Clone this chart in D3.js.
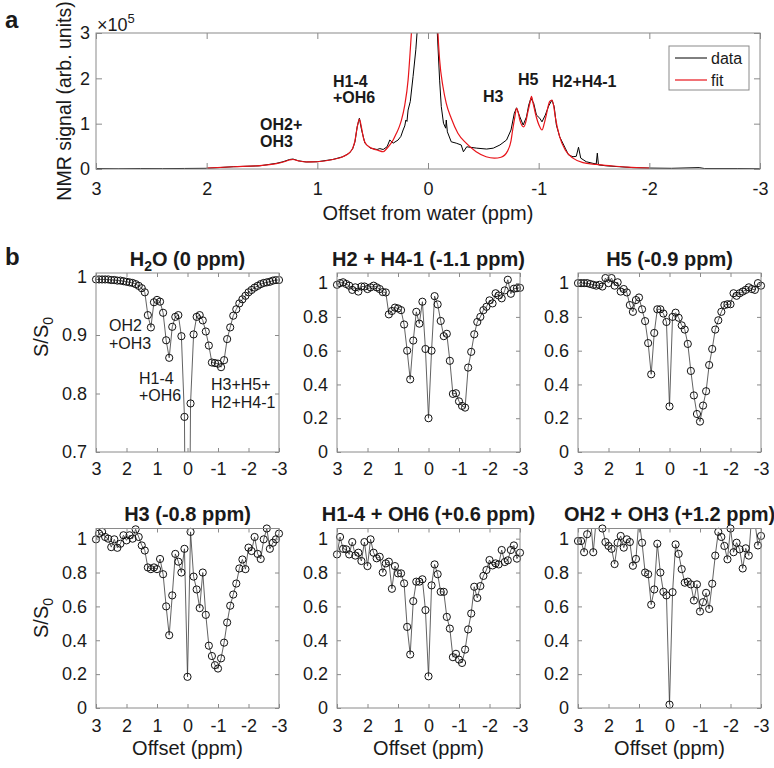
<!DOCTYPE html>
<html><head><meta charset="utf-8">
<script src="https://cdn.jsdelivr.net/npm/d3@7"></script>
<style>
body{margin:0;background:#fff}
svg{display:block}
text{font-family:Helvetica,Arial,'Liberation Sans',sans-serif;fill:#1a1a1a}
</style>
</head><body>
<svg id="c" width="774" height="768"></svg>
<script>
// ---------------- DATA ----------------
// (a) NMR spectrum, offset in ppm, signal in units of 1e5
const specDataPpm = [3.0,2.8,2.6,2.4,2.2,2.0,1.76,1.52,1.37,1.31,1.25,1.22,1.17,1.10,1.0,0.86,0.77,0.71,0.68,0.66,0.64,0.62,0.60,0.57,0.52,0.46,0.435,0.405,0.37,0.345,0.315,0.27,0.245,0.225,0.21,0.2,0.19,0.18,0.16,0.135,0.11,0.09,0.05,0.0,-0.05,-0.08,-0.105,-0.12,-0.14,-0.16,-0.165,-0.175,-0.21,-0.255,-0.30,-0.32,-0.35,-0.44,-0.53,-0.59,-0.65,-0.71,-0.75,-0.78,-0.80,-0.83,-0.86,-0.89,-0.91,-0.93,-0.955,-0.98,-1.01,-1.03,-1.06,-1.09,-1.12,-1.14,-1.16,-1.19,-1.24,-1.27,-1.31,-1.34,-1.36,-1.38,-1.43,-1.49,-1.52,-1.53,-1.54,-1.61,-1.73,-1.85,-2.0,-2.2,-2.45,-2.5,-2.8,-3.0];
const specDataVal = [0.01,0.005,0.01,0.008,0.012,0.015,0.05,0.07,0.125,0.16,0.21,0.22,0.18,0.155,0.16,0.21,0.27,0.35,0.45,0.60,0.93,1.12,0.86,0.57,0.46,0.43,0.45,0.43,0.49,0.64,0.57,0.64,0.72,0.86,0.95,1.08,1.05,1.30,1.49,2.04,2.63,3.3,6,9,6,3.2,1.96,1.38,1.01,0.90,1.08,0.82,0.60,0.57,0.53,0.38,0.49,0.46,0.44,0.46,0.53,0.64,0.86,1.23,1.35,1.15,0.97,1.15,1.41,1.56,1.45,1.19,1.12,1.04,1.19,1.39,1.52,1.38,0.97,0.71,0.46,0.31,0.27,0.28,0.48,0.24,0.16,0.125,0.11,0.35,0.09,0.07,0.05,0.03,0.02,0.015,0.03,0.01,0.01,0.005];
const specFitPpm = [2.0,1.76,1.52,1.37,1.30,1.25,1.22,1.17,1.10,1.0,0.86,0.77,0.71,0.68,0.66,0.64,0.62,0.60,0.58,0.55,0.50,0.45,0.405,0.38,0.345,0.315,0.285,0.26,0.24,0.21,0.18,0.16,0.15,0.12,0.06,0.0,-0.05,-0.09,-0.105,-0.135,-0.165,-0.21,-0.27,-0.345,-0.435,-0.525,-0.60,-0.66,-0.72,-0.75,-0.765,-0.785,-0.80,-0.815,-0.83,-0.865,-0.885,-0.90,-0.92,-0.935,-0.95,-0.97,-1.01,-1.03,-1.05,-1.065,-1.10,-1.12,-1.135,-1.15,-1.19,-1.24,-1.31,-1.40,-1.52,-1.67,-1.80,-2.0];
const specFitVal = [0.02,0.05,0.075,0.12,0.16,0.20,0.21,0.18,0.155,0.16,0.21,0.27,0.36,0.46,0.62,0.92,1.10,0.90,0.65,0.52,0.45,0.41,0.38,0.43,0.53,0.64,0.79,0.93,1.08,1.41,1.96,2.63,3.0,4,8,12,7,3.0,2.41,1.82,1.45,1.12,0.79,0.57,0.38,0.27,0.24,0.26,0.40,0.62,0.86,1.15,1.34,1.25,1.08,0.93,1.05,1.23,1.45,1.60,1.45,1.23,0.93,0.86,1.0,1.15,1.49,1.52,1.40,1.15,0.71,0.42,0.24,0.14,0.10,0.066,0.04,0.02];
const specXTicks = [3,2,1,0,-1,-2,-3];
const specYTicks = [0,1,2,3];
const specLabels = [
  ["OH2+", 260, 130], ["OH3", 260, 147], ["H1-4", 333, 87], ["+OH6", 333, 103],
  ["H3", 483, 102], ["H5", 518, 85], ["H2+H4-1", 552, 87]
];
const legendNames = ["data", "fit"];

// (b) Z-spectra: saturation offset (ppm) and S/S0 for each detection peak
const offsets = [3.0,2.9,2.8,2.7,2.6,2.5,2.4,2.3,2.2,2.1,2.0,1.9,1.8,1.7,1.6,1.5,1.4,1.3,1.2,1.1,1.0,0.9,0.8,0.7,0.6,0.5,0.4,0.3,0.2,0.1,0.0,-0.1,-0.2,-0.3,-0.4,-0.5,-0.6,-0.7,-0.8,-0.9,-1.0,-1.1,-1.2,-1.3,-1.4,-1.5,-1.6,-1.7,-1.8,-1.9,-2.0,-2.1,-2.2,-2.3,-2.4,-2.5,-2.6,-2.7,-2.8,-2.9,-3.0];
const zH2O = [0.995,0.995,0.995,0.995,0.995,0.994,0.994,0.993,0.993,0.992,0.991,0.990,0.989,0.987,0.984,0.980,0.973,0.934,0.913,0.956,0.960,0.957,0.938,0.891,0.861,0.914,0.931,0.934,0.898,0.760,0.05,0.783,0.901,0.931,0.934,0.925,0.906,0.882,0.853,0.852,0.851,0.845,0.857,0.893,0.913,0.933,0.944,0.954,0.961,0.967,0.973,0.977,0.981,0.984,0.987,0.989,0.990,0.991,0.993,0.994,0.994];
const zH2H41 = [0.99,1.0,1.005,0.995,0.985,0.96,0.975,0.95,0.98,0.98,0.965,0.975,0.985,0.975,0.965,0.947,0.945,0.815,0.835,0.855,0.85,0.84,0.755,0.60,0.43,0.66,0.83,0.76,0.89,0.61,0.20,0.60,0.923,0.874,0.776,0.686,0.70,0.54,0.344,0.348,0.30,0.273,0.263,0.50,0.593,0.697,0.77,0.80,0.84,0.86,0.898,0.88,0.94,0.927,0.91,0.957,1.02,0.937,0.967,0.97,0.972];
const zH5 = [1.0,1.0,1.0,1.0,0.995,0.99,0.985,0.99,0.98,1.03,1.0,1.03,0.985,1.005,0.95,0.965,0.945,0.87,0.83,0.9,0.915,0.845,0.775,0.645,0.46,0.705,0.845,0.845,0.82,0.77,0.27,0.80,0.825,0.795,0.75,0.725,0.64,0.48,0.335,0.225,0.18,0.275,0.36,0.515,0.61,0.725,0.78,0.83,0.87,0.875,0.875,0.94,0.925,0.94,0.95,0.96,0.975,0.965,0.96,1.0,0.985];
const zH3 = [0.996,1.03,1.04,1.01,1.0,0.95,0.996,0.946,0.97,1.02,0.99,1.02,1.0,1.055,1.01,0.96,0.93,0.83,0.82,0.83,0.82,0.88,0.79,0.60,0.43,0.665,0.91,0.864,0.80,0.94,0.184,1.04,0.776,0.70,0.59,0.80,0.55,0.368,0.307,0.253,0.233,0.293,0.386,0.505,0.604,0.67,0.735,0.824,0.877,0.82,0.947,0.927,1.01,0.91,0.88,0.996,1.06,0.94,0.976,0.996,1.03];
const zH14OH6 = [0.907,1.01,0.94,0.937,0.907,0.98,0.90,0.917,0.868,0.98,0.838,0.996,0.917,0.884,0.893,0.80,0.854,0.864,0.704,0.838,0.795,0.795,0.736,0.479,0.316,0.631,0.746,0.746,0.76,0.578,0.187,0.724,0.848,0.79,0.686,0.686,0.538,0.469,0.30,0.32,0.286,0.266,0.345,0.464,0.558,0.716,0.65,0.72,0.78,0.815,0.874,0.842,0.854,0.848,0.933,0.862,0.872,0.933,0.96,0.882,0.917];
const zOH2OH3 = [0.986,0.986,0.92,1.026,1.15,0.92,1.12,1.10,1.06,0.98,0.957,0.94,0.85,0.976,1.016,0.947,0.996,0.98,0.84,0.88,1.12,0.976,0.80,0.79,0.61,0.70,0.97,0.80,0.686,0.665,0.02,0.684,0.966,0.91,0.82,0.74,0.746,0.73,0.635,0.73,0.57,0.625,0.68,0.585,0.734,0.90,1.04,1.01,0.957,0.878,1.06,0.92,0.976,0.937,0.824,0.943,0.90,1.15,1.10,0.96,1.016];
const zTitles = ["H2O (0 ppm)", "H2 + H4-1 (-1.1 ppm)", "H5 (-0.9 ppm)", "H3 (-0.8 ppm)", "H1-4 + OH6 (+0.6 ppm)", "OH2 + OH3 (+1.2 ppm)"];
const zSeries = [zH2O, zH2H41, zH5, zH3, zH14OH6, zOH2OH3];
const zXTicks = [3,2,1,0,-1,-2,-3];
const zYTicksH2O = [0.7,0.8,0.9,1];
const zYTicks = [0,0.2,0.4,0.6,0.8,1];
const h2oNotes = [["OH2",109,331],["+OH3",109,349],["H1-4",139,384],["+OH6",139,401],["H3+H5+",211,390],["H2+H4-1",211,408]];

// ---------------- DRAWING ----------------
const svg = d3.select("#c");
const AX = "#8a8a8a", TXT = "#262626";
const fmt = d => String(d);

function boxAxes(g, x, y, xt, yt, tick, padX, padY, showX) {
  const [x0, x1] = x.range(), [y0, y1] = y.range();
  const ab = g.append("g").attr("transform", `translate(0,${y0})`)
    .call(d3.axisBottom(x).tickValues(xt).tickFormat(showX ? fmt : () => "").tickSizeInner(-tick).tickSizeOuter(0).tickPadding(padX));
  const at = g.append("g").attr("transform", `translate(0,${y1})`)
    .call(d3.axisTop(x).tickValues(xt).tickFormat(() => "").tickSizeInner(-tick).tickSizeOuter(0));
  const al = g.append("g").attr("transform", `translate(${x0},0)`)
    .call(d3.axisLeft(y).tickValues(yt).tickFormat(fmt).tickSizeInner(-tick).tickSizeOuter(0).tickPadding(padY));
  const ar = g.append("g").attr("transform", `translate(${x1},0)`)
    .call(d3.axisRight(y).tickValues(yt).tickFormat(() => "").tickSizeInner(-tick).tickSizeOuter(0));
  [ab, at, al, ar].forEach(a => {
    a.select(".domain").remove();
    a.selectAll("line").attr("stroke", AX);
    a.selectAll("text").attr("font-size", 18).attr("fill", TXT)
      .style("font-family", "Helvetica,Arial,'Liberation Sans',sans-serif");
  });
  g.append("rect").attr("x", x0).attr("y", y1).attr("width", x1 - x0).attr("height", y0 - y1)
    .attr("fill", "none").attr("stroke", AX).attr("stroke-width", 1);
}

// panel letters
svg.append("text").attr("x", 5).attr("y", 28).attr("font-size", 24).attr("font-weight", "bold").text("a");
svg.append("text").attr("x", 5).attr("y", 265).attr("font-size", 24).attr("font-weight", "bold").text("b");

// ----- (a) spectrum -----
const xs = d3.scaleLinear().domain([3, -3]).range([96, 760]);
const ys = d3.scaleLinear().domain([0, 3]).range([169, 33]);
const ga = svg.append("g");
ga.append("clipPath").attr("id", "clipA").append("rect")
  .attr("x", 96).attr("y", 33).attr("width", 664).attr("height", 136);
const pts = (p, v) => p.map((d, i) => [d, v[i]]);
const lineA = d3.line().x(d => xs(d[0])).y(d => ys(d[1]));
const lineFit = d3.line().x(d => xs(d[0])).y(d => ys(d[1])).curve(d3.curveMonotoneX);
ga.append("path").attr("clip-path", "url(#clipA)").attr("d", lineA(pts(specDataPpm, specDataVal)))
  .attr("fill", "none").attr("stroke", "#000").attr("stroke-width", 1);
ga.append("path").attr("clip-path", "url(#clipA)").attr("d", lineFit(pts(specFitPpm, specFitVal)))
  .attr("fill", "none").attr("stroke", "#e8141a").attr("stroke-width", 1.2);
boxAxes(ga, xs, ys, specXTicks, specYTicks, 6, 13, 6, true);
ga.append("text").attr("x", 97).attr("y", 31).attr("font-size", 18).attr("fill", TXT)
  .text("\u00d710").append("tspan").attr("font-size", 13).attr("dy", -8).text("5");
ga.append("text").attr("transform", "translate(71,101) rotate(-90)").attr("text-anchor", "middle")
  .attr("font-size", 19.5).attr("fill", TXT).text("NMR signal (arb. units)");
ga.append("text").attr("x", 428).attr("y", 220).attr("text-anchor", "middle")
  .attr("font-size", 20).attr("fill", TXT).text("Offset from water (ppm)");
specLabels.forEach(([t, x, y]) => ga.append("text").attr("x", x).attr("y", y)
  .attr("font-size", 16).attr("font-weight", "bold").text(t));
// legend
const lg = ga.append("g");
lg.append("rect").attr("x", 669).attr("y", 46).attr("width", 80).attr("height", 44)
  .attr("fill", "#fff").attr("stroke", AX);
[["#000", 58], ["#e8141a", 80]].forEach(([c, y], i) => {
  lg.append("line").attr("x1", 675).attr("x2", 707).attr("y1", y).attr("y2", y)
    .attr("stroke", c).attr("stroke-width", i ? 1.2 : 1);
  lg.append("text").attr("x", 711).attr("y", y + 6).attr("font-size", 16).attr("fill", TXT).text(legendNames[i]);
});

// ----- (b) Z-spectra -----
const colX = [96, 337, 578], PW = 183;
const rowY = [[273, 452], [528.5, 708]];
zSeries.forEach((vals, k) => {
  const c = k % 3, r = Math.floor(k / 3);
  const left = colX[c], [top, bot] = rowY[r];
  const isH2O = k === 0;
  const x = d3.scaleLinear().domain([3, -3]).range([left, left + PW]);
  const y = d3.scaleLinear().domain(isH2O ? [0.7, 1.006] : [0, 1.06]).range([bot, top]);
  const g = svg.append("g");
  g.append("clipPath").attr("id", "clipZ" + k).append("rect")
    .attr("x", left).attr("y", top).attr("width", PW).attr("height", bot - top);
  const data = offsets.map((o, i) => [o, vals[i]]);
  g.append("path").attr("clip-path", `url(#clipZ${k})`)
    .attr("d", d3.line().x(d => x(d[0])).y(d => y(d[1]))(data))
    .attr("fill", "none").attr("stroke", "#3a3a3a").attr("stroke-width", 0.8);
  const [ylo, yhi] = y.domain();
  g.selectAll("circle").data(data.filter(d => d[1] >= ylo && d[1] <= yhi + 0.002)).join("circle")
    .attr("cx", d => x(d[0])).attr("cy", d => y(d[1])).attr("r", 3.6)
    .attr("fill", "none").attr("stroke", "#111").attr("stroke-width", 1);
  boxAxes(g, x, y, zXTicks, isH2O ? zYTicksH2O : zYTicks, 4, r === 0 ? 10 : 11, 9, true);
  // title
  const tt = g.append("text").attr("x", left + PW / 2).attr("y", r === 0 ? 266 : 521)
    .attr("text-anchor", "middle").attr("font-size", 20).attr("font-weight", "bold");
  if (isH2O) {
    tt.append("tspan").text("H");
    tt.append("tspan").attr("font-size", 14).attr("dy", 5).text("2");
    tt.append("tspan").attr("dy", -5).text("O (0 ppm)");
  } else tt.text(zTitles[k]);
  if (c === 0) {
    const yl = g.append("text").attr("transform", `translate(48,${r === 0 ? 337 : 618}) rotate(-90)`)
      .attr("text-anchor", "middle").attr("font-size", 20).attr("fill", TXT);
    yl.append("tspan").text("S/S");
    yl.append("tspan").attr("font-size", 14).attr("dy", 5).text("0");
  }
  if (r === 1) {
    g.append("text").attr("x", left + PW / 2).attr("y", 755).attr("text-anchor", "middle")
      .attr("font-size", 20).attr("fill", TXT).text("Offset (ppm)");
  }
  if (isH2O) {
    h2oNotes.forEach(([t, xx, yy]) => g.append("text").attr("x", xx).attr("y", yy)
      .attr("font-size", 16).attr("fill", TXT).text(t));
  }
});
</script>
</body></html>
